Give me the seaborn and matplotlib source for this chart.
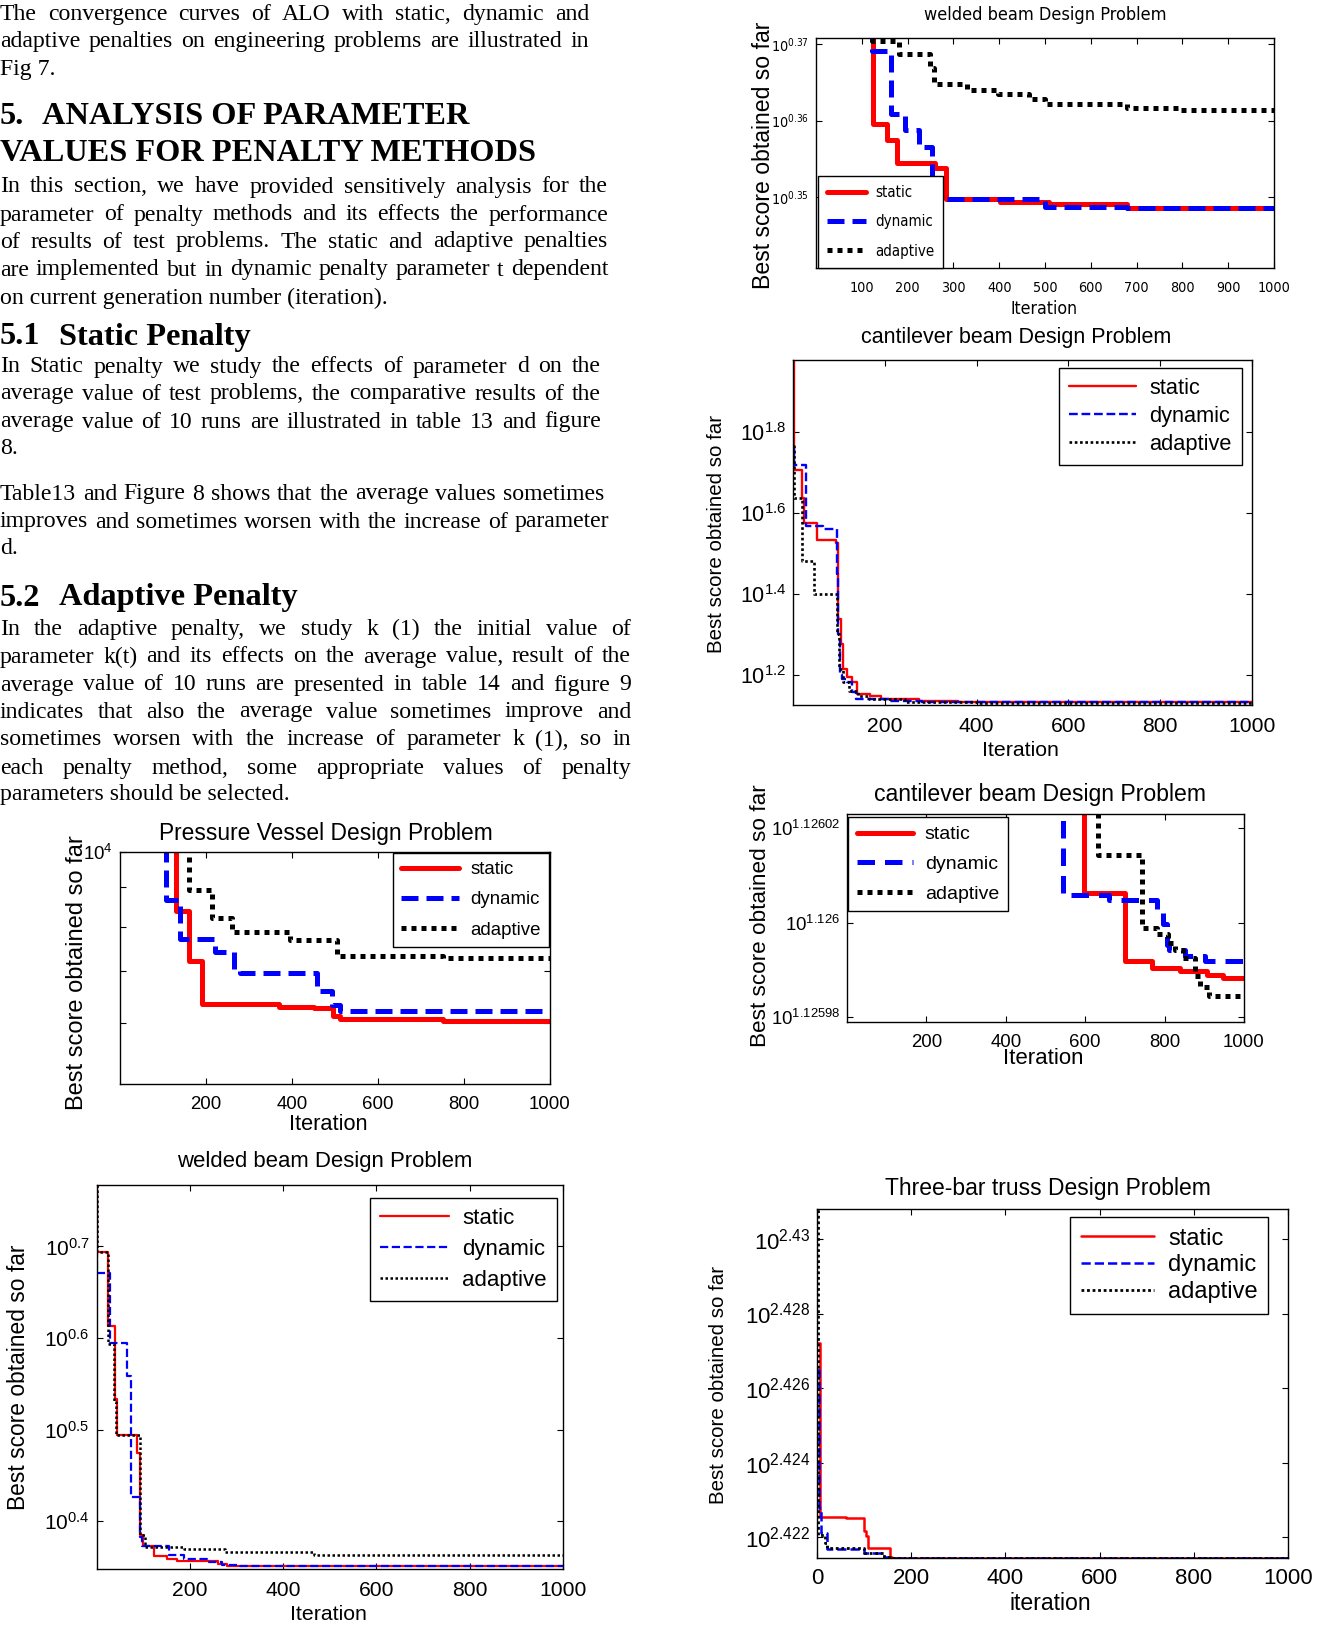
import numpy as np
import pandas as pd
import matplotlib
matplotlib.use('Agg')
import matplotlib.pyplot as plt
from matplotlib.ticker import NullLocator
from matplotlib.font_manager import FontProperties, findfont
import seaborn as sns

sns.set_theme(style='ticks')
plt.rcParams['font.family'] = ['Liberation Sans', 'DejaVu Sans']
plt.rcParams['mathtext.default'] = 'regular'
for k in ['text.color', 'axes.labelcolor', 'xtick.color', 'ytick.color', 'axes.edgecolor']:
    plt.rcParams[k] = 'black'

W, H = 1330, 1627
SANS = ['Liberation Sans', 'DejaVu Sans']
SERIF = ['Liberation Serif', 'DejaVu Serif']
RED, BLUE, BLACK = '#ff0000', '#0000ff', '#000000'
LABELS = ['static', 'dynamic', 'adaptive']

# ── page text ──────────────────────────────────────────────────
# (line, center y in px, right edge for justified lines or None)
para_lines = [
    ("The convergence curves of ALO with static, dynamic and", 14.5, 589),
    ("adaptive penalties on engineering problems are illustrated in", 41.5, 589),
    ("Fig 7.", 69.5, None),
    ("In this section, we have provided sensitively analysis for the", 187, 608),
    ("parameter of penalty methods and its effects the performance", 215, 608),
    ("of results of test problems. The static and adaptive penalties", 242, 608),
    ("are implemented but in dynamic penalty parameter t dependent", 270, 608),
    ("on current generation number (iteration).", 298, None),
    ("In Static penalty we study the effects of parameter d on the", 367, 601),
    ("average value of test problems, the comparative results of the", 394, 601),
    ("average value of 10 runs are illustrated in table 13 and figure", 422, 601),
    ("8.", 449, None),
    ("Table13 and Figure 8 shows that the average values sometimes", 494, 604),
    ("improves and sometimes worsen with the increase of parameter", 522, 609),
    ("d.", 549, None),
    ("In the adaptive penalty, we study k (1) the initial value of", 629, 631),
    ("parameter k(t) and its effects on the average value, result of the", 657, 631),
    ("average value of 10 runs are presented in table 14 and figure 9", 685, 631),
    ("indicates that also the average value sometimes improve and", 712, 631),
    ("sometimes worsen with the increase of parameter k (1), so in", 740, 631),
    ("each penalty method, some appropriate values of penalty", 768, 631),
    ("parameters should be selected.", 795, None),
]
# (number, heading text, x of heading text, center y)
headings = [
    ("5.", "ANALYSIS OF PARAMETER", 42.5, 117),
    ("", "VALUES FOR PENALTY METHODS", 0, 153.5),
    ("5.1", "Static Penalty", 59, 337),
    ("5.2", "Adaptive Penalty", 59, 598),
]

# ── Pressure Vessel (values) ───────────────────────────────────
pv_static_it = [1, 131, 160, 190, 369, 450, 496, 512, 752, 1000]
pv_static = [15000, 8395, 7227, 6356, 6300, 6267, 6125, 6065, 6032, 6032]
pv_dynamic_it = [1, 108, 139, 221, 264, 280, 458, 492, 512, 1000]
pv_dynamic = [15000, 8665, 7703, 7408, 7012, 6960, 6604, 6340, 6210, 6210]
pv_adaptive_it = [1, 160, 214, 260, 396, 504, 752, 1000]
pv_adaptive = [15000, 8940, 8206, 7885, 7680, 7330, 7290, 7290]

# ── welded beam, left (log10 of best score) ────────────────────
wb1_static_it = [1, 2, 25, 39, 44, 87, 93, 100, 123, 152, 172, 260, 279, 1000]
wb1_static = [0.80, 0.6935, 0.613, 0.533, 0.494, 0.475, 0.385, 0.373, 0.362, 0.359, 0.3565, 0.353, 0.351, 0.351]
wb1_dynamic_it = [1, 2, 29, 65, 73, 93, 97, 156, 188, 236, 268, 307, 1000]
wb1_dynamic = [0.80, 0.671, 0.595, 0.559, 0.427, 0.383, 0.373, 0.363, 0.3587, 0.356, 0.352, 0.351, 0.351]
wb1_adaptive_it = [1, 2, 25, 37, 42, 93, 103, 188, 276, 466, 1000]
wb1_adaptive = [0.80, 0.6935, 0.593, 0.53, 0.494, 0.385, 0.372, 0.370, 0.3666, 0.3638, 0.3638]

# ── welded beam, right (log10) ─────────────────────────────────
wb2_static_it = [1, 124, 156, 177, 260, 283, 402, 508, 678, 1000]
wb2_static = [0.38, 0.35959, 0.35744, 0.35443, 0.35378, 0.34978, 0.3494, 0.34905, 0.34862, 0.34862]
wb2_dynamic_it = [1, 122, 164, 194, 224, 253, 265, 500, 678, 1000]
wb2_dynamic = [0.38, 0.36905, 0.36088, 0.35873, 0.35658, 0.35013, 0.34978, 0.34875, 0.34858, 0.34858]
wb2_adaptive_it = [1, 122, 181, 249, 258, 330, 398, 466, 500, 678, 798, 1000]
wb2_adaptive = [0.38, 0.37043, 0.36862, 0.3669, 0.36475, 0.36398, 0.36346, 0.36282, 0.36217, 0.36166, 0.3614, 0.3614]

# ── cantilever beam, upper (log10) ─────────────────────────────
cb1_static_it = [1, 2, 20, 25, 53, 94, 98, 104, 110, 118, 128, 140, 168, 192, 274, 360, 1000]
cb1_static = [1.98, 1.7078, 1.6379, 1.5745, 1.5333, 1.527, 1.3374, 1.2757, 1.214, 1.1934, 1.1811,
              1.1523, 1.1481, 1.1399, 1.1358, 1.1317, 1.1317]
cb1_dynamic_it = [1, 3, 28, 65, 95, 99, 103, 106, 117, 129, 137, 211, 282, 1000]
cb1_dynamic = [1.761, 1.72, 1.569, 1.56, 1.45, 1.30, 1.2, 1.189, 1.181, 1.156, 1.141, 1.136, 1.1317, 1.1317]
cb1_adaptive_it = [1, 2, 19, 45, 95, 101, 110, 122, 141, 165, 243, 400, 1000]
cb1_adaptive = [1.765, 1.638, 1.481, 1.40, 1.30, 1.214, 1.181, 1.16, 1.148, 1.14, 1.1334, 1.130, 1.130]

# ── cantilever beam, lower (log10) ─────────────────────────────
cb2_static_it = [1, 598, 700, 769, 838, 907, 946, 1000]
cb2_static = [1.12604, 1.1260062, 1.125992, 1.1259905, 1.1259898, 1.125989, 1.1259883, 1.1259883]
cb2_dynamic_it = [1, 544, 661, 782, 795, 806, 812, 851, 903, 1000]
cb2_dynamic = [1.12604, 1.1260058, 1.1260048, 1.1260029, 1.1259998, 1.1259953, 1.1259943,
               1.1259929, 1.125992, 1.125992]
cb2_adaptive_it = [1, 633, 743, 782, 808, 825, 847, 877, 890, 912, 1000]
cb2_adaptive = [1.12604, 1.1260144, 1.1259988, 1.1259977, 1.1259957, 1.1259943, 1.1259926,
                1.1259888, 1.1259863, 1.1259844, 1.1259844]

# ── three-bar truss (log10) ────────────────────────────────────
tb_static_it = [0, 6, 61, 100, 104, 108, 154, 160, 1000]
tb_static = [2.42721, 2.42256, 2.42252, 2.42216, 2.42203, 2.42173, 2.42149, 2.42146, 2.42146]
tb_dynamic_it = [0, 4, 9, 22, 100, 143, 150, 1000]
tb_dynamic = [2.4265, 2.42279, 2.42211, 2.42168, 2.42158, 2.42149, 2.42146, 2.42146]
tb_adaptive_it = [0, 2, 17, 22, 100, 143, 155, 1000]
tb_adaptive = [2.4315, 2.42207, 2.42185, 2.42171, 2.42158, 2.42149, 2.42146, 2.42146]


def find_narrow():
    # condensed face for the right-hand welded beam panel, if one is installed
    tries = [('Liberation Sans Narrow', 'normal', 'Narrow'), ('Liberation Sans', 'condensed', 'Narrow'),
             ('DejaVu Sans', 'condensed', 'Condensed'), ('Roboto Condensed', 'normal', 'Condensed')]
    for fam, st, key in tries:
        try:
            path = findfont(FontProperties(family=fam, stretch=st), fallback_to_default=False)
        except Exception:
            continue
        if key in path:
            return path
    return None


NARROW_PATH = find_narrow()
# sizes below are for an Arial-Narrow-like face; other faces run wider
NARROW_SCALE = 1.0 if (NARROW_PATH and 'Narrow' in NARROW_PATH) else 0.82


def fp(size, narrow=False):
    if not narrow:
        return FontProperties(family=SANS, size=size)
    if NARROW_PATH:
        return FontProperties(fname=NARROW_PATH, size=size * NARROW_SCALE)
    return FontProperties(family=SANS, size=size * NARROW_SCALE)


def add_ax(fig, left, top, right, bottom):
    return fig.add_axes([left / W, 1 - bottom / H, (right - left) / W, (bottom - top) / H])


def fx(x):
    return x / W


def fy(y):
    return 1 - y / H


def draw_series(ax, iters, vals, color, ls, lw, label):
    df = pd.DataFrame({'it': iters, 'val': vals})
    sns.lineplot(data=df, x='it', y='val', ax=ax, color=color, linestyle=ls, lw=lw,
                 drawstyle='steps-post', label=label, estimator=None, sort=False)


def style_ax(ax, xticks, yticks, ylabels, ylim, xfs, yfs, narrow=False, xpad=8.5):
    ax.set_yscale('log')
    ax.set_xlim(0, 1000)
    ax.set_ylim(*ylim)
    ax.set_xticks(xticks)
    ax.set_xticklabels([str(t) for t in xticks], fontproperties=fp(xfs, narrow))
    ax.set_yticks(yticks)
    ax.set_yticklabels(ylabels, fontproperties=fp(yfs, narrow))
    ax.yaxis.set_minor_locator(NullLocator())
    ax.xaxis.set_minor_locator(NullLocator())
    ax.tick_params(direction='in', top=True, right=True, length=4, width=0.8, pad=5)
    ax.tick_params(axis='x', pad=xpad)
    ax.set_xlabel('')
    ax.set_ylabel('')
    for s in ax.spines.values():
        s.set_visible(True)
        s.set_linewidth(1.0)
        s.set_color('black')


def put_legend(fig, ax, x, y, size, spacing, narrow=False, pad=0.45, hlen=3.1):
    leg = ax.legend(loc='upper left', bbox_to_anchor=(fx(x), fy(y)), bbox_transform=fig.transFigure,
                    borderaxespad=0, frameon=True, fancybox=False, edgecolor='black', framealpha=1,
                    prop=fp(size, narrow), handlelength=hlen,
                    borderpad=pad, labelspacing=spacing, handletextpad=0.6)
    leg.get_frame().set_linewidth(1.0)


def labels(fig, title, tpos, tfs, xlab, xpos, xfs, ypos, yfs, narrow=False):
    fig.text(fx(tpos[0]), fy(tpos[1]), title, ha='center', va='center', fontproperties=fp(tfs, narrow))
    fig.text(fx(xpos[0]), fy(xpos[1]), xlab, ha='center', va='center', fontproperties=fp(xfs, narrow))
    fig.text(fx(ypos[0]), fy(ypos[1]), 'Best score obtained so far', ha='center', va='center',
             rotation=90, fontproperties=fp(yfs))


fig = plt.figure(figsize=(W / 100, H / 100), dpi=100)
renderer = fig.canvas.get_renderer()

# ── page text (justified like the paper) ───────────────────────
probe = fig.text(0, 0, "on current generation number (iteration).", fontsize=10, family=SERIF)
body_fs = 10 * 389 / probe.get_window_extent(renderer).width
probe.remove()
probe = fig.text(0, 0, "VALUES FOR PENALTY METHODS", fontsize=10, family=SERIF, weight='bold')
head_fs = 10 * 535 / probe.get_window_extent(renderer).width
probe.remove()

for s, y, right in para_lines:
    if right is None:
        fig.text(0, fy(y), s, fontsize=body_fs, family=SERIF, va='center')
        continue
    words = s.split(' ')
    objs = [fig.text(0, fy(y), w, fontsize=body_fs, family=SERIF, va='center') for w in words]
    widths = [o.get_window_extent(renderer).width for o in objs]
    gap = (right - sum(widths)) / (len(words) - 1)
    x = 0
    for o, w in zip(objs, widths):
        o.set_x(fx(x))
        x += w + gap

for num, s, x, y in headings:
    if num:
        fig.text(0, fy(y), num, fontsize=head_fs, family=SERIF, weight='bold', va='center')
    fig.text(fx(x), fy(y), s, fontsize=head_fs, family=SERIF, weight='bold', va='center')

# ── Pressure Vessel ────────────────────────────────────────────
ax = add_ax(fig, 120, 852, 550, 1084)
draw_series(ax, pv_static_it, pv_static, RED, '-', 3.6, LABELS[0])
draw_series(ax, pv_dynamic_it, pv_dynamic, BLUE, (0, (3.4, 1.6)), 3.6, LABELS[1])
draw_series(ax, pv_adaptive_it, pv_adaptive, BLACK, (0, (1, 1)), 3.6, LABELS[2])
style_ax(ax, [200, 400, 600, 800, 1000], [6000, 7000, 8000, 9000, 10000],
         ['', '', '', '', '$10^{4}$'], (5000, 10000), 13.4, 13.4)
put_legend(fig, ax, 393, 853, 13.4, 0.7)
labels(fig, 'Pressure Vessel Design Problem', (326, 833), 16.4, 'Iteration', (328, 1125), 15.7,
       (77, 973), 17)

# ── welded beam (left) ─────────────────────────────────────────
ax = add_ax(fig, 96.5, 1185, 563, 1569)
draw_series(ax, wb1_static_it, 10 ** np.array(wb1_static), RED, '-', 1.6, LABELS[0])
draw_series(ax, wb1_dynamic_it, 10 ** np.array(wb1_dynamic), BLUE, '--', 1.6, LABELS[1])
draw_series(ax, wb1_adaptive_it, 10 ** np.array(wb1_adaptive), BLACK, (0, (1, 1)), 1.8, LABELS[2])
e = [0.4, 0.5, 0.6, 0.7]
style_ax(ax, [200, 400, 600, 800, 1000], [10 ** v for v in e], ['$10^{%g}$' % v for v in e],
         (10 ** 0.348, 10 ** 0.767), 15.2, 15)
put_legend(fig, ax, 370, 1198, 16, 0.44)
labels(fig, 'welded beam Design Problem', (325, 1161), 15.9, 'Iteration', (328, 1615), 15.3,
       (19, 1377), 16.4)

# ── welded beam (right, narrow font) ───────────────────────────
ax = add_ax(fig, 816, 38, 1274, 268)
draw_series(ax, wb2_static_it, 10 ** np.array(wb2_static), RED, '-', 3.6, LABELS[0])
draw_series(ax, wb2_dynamic_it, 10 ** np.array(wb2_dynamic), BLUE, (0, (3.4, 1.6)), 3.6, LABELS[1])
draw_series(ax, wb2_adaptive_it, 10 ** np.array(wb2_adaptive), BLACK, (0, (1, 1)), 3.6, LABELS[2])
e = [0.35, 0.36, 0.37]
style_ax(ax, list(range(100, 1001, 100)), [10 ** v for v in e], ['$10^{%g}$' % v for v in e],
         (10 ** 0.34075, 10 ** 0.37077), 12.5, 12.5, narrow=True, xpad=9)
put_legend(fig, ax, 818, 176, 13.2, 0.95, narrow=True, pad=0.6, hlen=2.6)
labels(fig, 'welded beam Design Problem', (1045, 14.5), 15.8, 'Iteration', (1044, 309), 15.5,
       (763, 155), 16.6, narrow=True)

# ── cantilever beam (upper) ────────────────────────────────────
ax = add_ax(fig, 793, 360, 1252, 705)
draw_series(ax, cb1_static_it, 10 ** np.array(cb1_static), RED, '-', 1.7, LABELS[0])
draw_series(ax, cb1_dynamic_it, 10 ** np.array(cb1_dynamic), BLUE, '--', 1.7, LABELS[1])
draw_series(ax, cb1_adaptive_it, 10 ** np.array(cb1_adaptive), BLACK, (0, (1, 1)), 1.9, LABELS[2])
e = [1.2, 1.4, 1.6, 1.8]
style_ax(ax, [200, 400, 600, 800, 1000], [10 ** v for v in e], ['$10^{%g}$' % v for v in e],
         (10 ** 1.125, 10 ** 1.979), 15.2, 15.5)
put_legend(fig, ax, 1059, 368, 15.7, 0.32)
labels(fig, 'cantilever beam Design Problem', (1016, 338), 15.5, 'Iteration', (1020, 750), 15.3,
       (716, 534), 14.8)

# ── cantilever beam (lower, zoomed) ────────────────────────────
ax = add_ax(fig, 847, 814, 1244, 1022)
draw_series(ax, cb2_static_it, 10 ** np.array(cb2_static), RED, '-', 3.6, LABELS[0])
draw_series(ax, cb2_dynamic_it, 10 ** np.array(cb2_dynamic), BLUE, (0, (3.5, 2.0)), 3.6, LABELS[1])
draw_series(ax, cb2_adaptive_it, 10 ** np.array(cb2_adaptive), BLACK, (0, (1, 1)), 3.6, LABELS[2])
e = ['1.12598', '1.126', '1.12602']
style_ax(ax, [200, 400, 600, 800, 1000], [10 ** float(v) for v in e], ['$10^{%s}$' % v for v in e],
         (10 ** 1.125979, 10 ** 1.126023), 13.4, 13.4)
put_legend(fig, ax, 848, 817, 14, 0.62, hlen=2.9)
labels(fig, 'cantilever beam Design Problem', (1040, 795), 16.6, 'Iteration', (1043, 1058), 16,
       (760, 916), 16.2)

# ── three-bar truss ────────────────────────────────────────────
ax = add_ax(fig, 817, 1209, 1288, 1558)
draw_series(ax, tb_static_it, 10 ** np.array(tb_static), RED, '-', 1.8, LABELS[0])
draw_series(ax, tb_dynamic_it, 10 ** np.array(tb_dynamic), BLUE, '--', 1.8, LABELS[1])
draw_series(ax, tb_adaptive_it, 10 ** np.array(tb_adaptive), BLACK, (0, (1, 1)), 2.0, LABELS[2])
e = ['2.422', '2.424', '2.426', '2.428', '2.43']
style_ax(ax, [0, 200, 400, 600, 800, 1000], [10 ** float(v) for v in e], ['$10^{%s}$' % v for v in e],
         (10 ** 2.42145, 10 ** 2.4308), 16, 16, xpad=7.5)
put_legend(fig, ax, 1070, 1217, 17, 0.2)
labels(fig, 'Three-bar truss Design Problem', (1048, 1188), 16.5, 'iteration', (1050, 1604), 16.6,
       (718, 1385), 14.8)

fig.savefig('out.png', dpi=100)
